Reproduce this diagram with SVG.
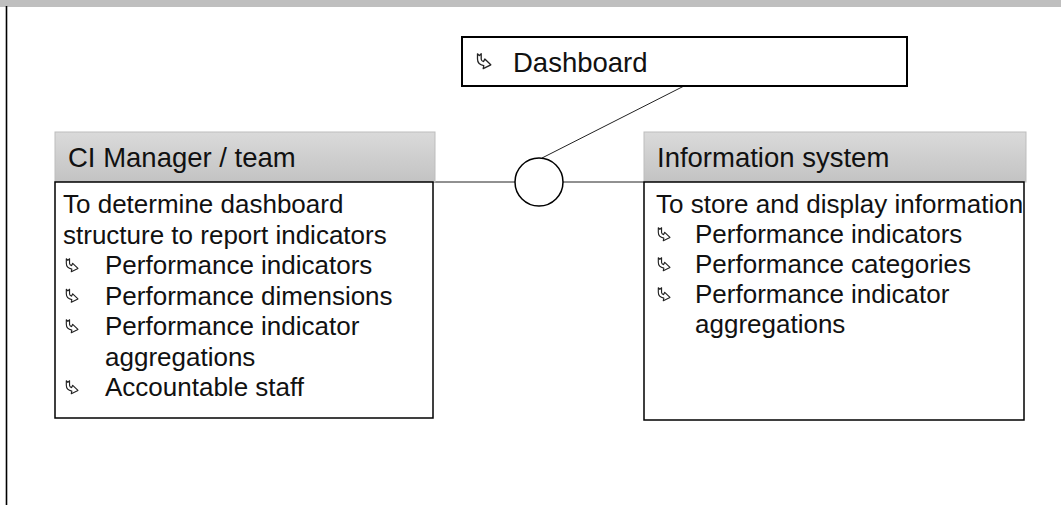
<svg xmlns="http://www.w3.org/2000/svg" xmlns:xlink="http://www.w3.org/1999/xlink" width="1061" height="505" viewBox="0 0 1061 505">
<style>
  .t { font-family: "Liberation Sans", Arial, sans-serif; font-size: 26px; fill: #111; }
  .h { font-family: "Liberation Sans", Arial, sans-serif; font-size: 27.5px; fill: #111; }
  .body { fill: #fff; stroke: #000; stroke-width: 1.5; }
  .head { fill: url(#hg); stroke: #bdbdbd; stroke-width: 1; }
  .conn { stroke: #222; stroke-width: 1; fill: none; }
  .ico { fill: #fff; stroke: #222; stroke-width: 1.3; stroke-linejoin: round; }
</style>
<defs>
  <linearGradient id="hg" x1="0" y1="0" x2="0" y2="1">
    <stop offset="0" stop-color="#dadada"/>
    <stop offset="1" stop-color="#c3c3c3"/>
  </linearGradient>
  <symbol id="bul" viewBox="0 0 16 17" overflow="visible">
    <path class="ico" d="M1.5,0.8 L3.3,2.6 L5.2,0.8 L5.2,6.2 Q5.4,8 7.6,8.6 L8.8,6 L14.8,11.8 L7.2,15.6 L7.8,12.6 Q1.5,11.5 1.5,6 Z"/>
  </symbol>
</defs>
<rect x="0" y="0" width="1061" height="7" fill="#bfbfbf"/>
<line x1="6.5" y1="6" x2="6.5" y2="505" stroke="#000" stroke-width="1.6"/>

<g id="connectors">
  <line class="conn" x1="433" y1="182" x2="515" y2="182"/>
  <line class="conn" x1="563" y1="182" x2="644" y2="182"/>
  <line class="conn" x1="684" y1="86" x2="542" y2="158"/>
</g>

<g id="junction">
  <circle cx="539" cy="182" r="24" fill="#fff" stroke="#000" stroke-width="1.5"/>
</g>

<g id="dashboard">
  <rect x="462" y="37" width="445" height="49" fill="#fff" stroke="#000" stroke-width="2"/>
  <use xlink:href="#bul" href="#bul" x="476" y="53" width="16" height="17"/>
  <text class="h" x="513" y="72" font-size="28">Dashboard</text>
</g>

<g id="ci-manager">
  <rect class="head" x="55" y="132" width="380" height="50"/>
  <text class="h" x="68" y="166.5">CI Manager / team</text>
  <rect class="body" x="55" y="182" width="378" height="236"/>
  <text class="t" x="63" y="213">To determine dashboard</text>
  <text class="t" x="63" y="243.5">structure to report indicators</text>
  <use xlink:href="#bul" href="#bul" x="65" y="258" width="14" height="15"/>
  <text class="t" x="105" y="274">Performance indicators</text>
  <use xlink:href="#bul" href="#bul" x="65" y="288.5" width="14" height="15"/>
  <text class="t" x="105" y="304.5">Performance dimensions</text>
  <use xlink:href="#bul" href="#bul" x="65" y="319" width="14" height="15"/>
  <text class="t" x="105" y="335">Performance indicator</text>
  <text class="t" x="105" y="365.5">aggregations</text>
  <use xlink:href="#bul" href="#bul" x="65" y="380" width="14" height="15"/>
  <text class="t" x="105" y="396">Accountable staff</text>
</g>

<g id="information-system">
  <rect class="head" x="644" y="132" width="382" height="50"/>
  <text class="h" x="657" y="166.5">Information system</text>
  <rect class="body" x="644" y="182" width="380" height="238"/>
  <text class="t" x="656" y="213">To store and display information</text>
  <use xlink:href="#bul" href="#bul" x="657" y="227" width="14" height="15"/>
  <text class="t" x="695" y="243">Performance indicators</text>
  <use xlink:href="#bul" href="#bul" x="657" y="257" width="14" height="15"/>
  <text class="t" x="695" y="273">Performance categories</text>
  <use xlink:href="#bul" href="#bul" x="657" y="287" width="14" height="15"/>
  <text class="t" x="695" y="303">Performance indicator</text>
  <text class="t" x="695" y="333">aggregations</text>
</g>
</svg>
